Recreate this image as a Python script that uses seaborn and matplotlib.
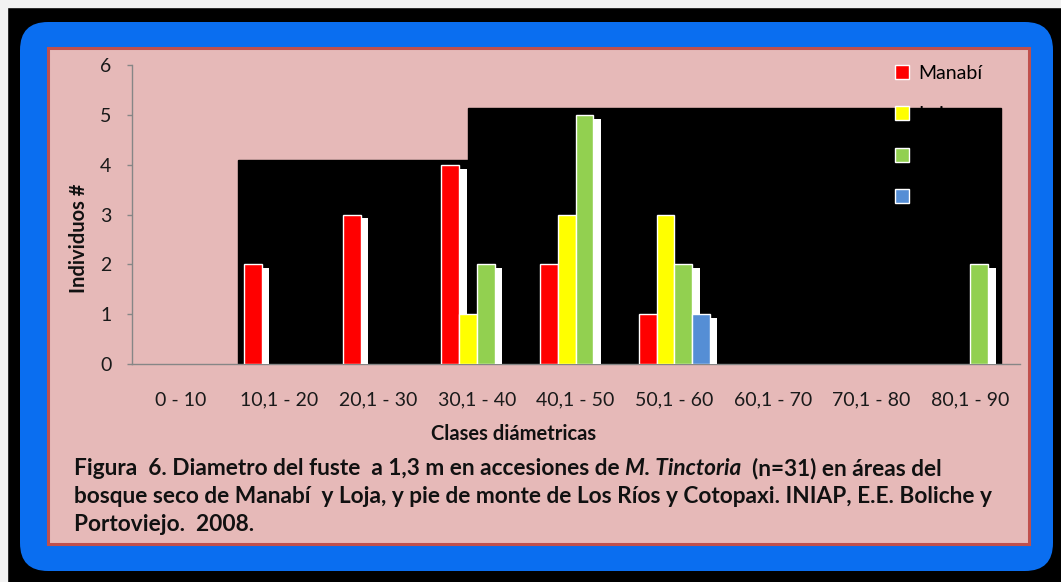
import matplotlib
matplotlib.use('Agg')
import matplotlib.pyplot as plt
import matplotlib.patheffects as pe
from matplotlib.patches import Rectangle, FancyBboxPatch
from matplotlib.lines import Line2D
from matplotlib.transforms import IdentityTransform
import seaborn as sns
import pandas as pd


categories = ["0 - 10", "10,1 - 20", "20,1 - 30", "30,1 - 40", "40,1 - 50",
              "50,1 - 60", "60,1 - 70", "70,1 - 80", "80,1 - 90"]
manabi   = [0, 2, 3, 4, 2, 1, 0, 0, 0]
loja     = [0, 0, 0, 1, 3, 3, 0, 0, 0]
los_rios = [0, 0, 0, 2, 5, 2, 0, 0, 2]
cotopaxi = [0, 0, 0, 0, 0, 1, 0, 0, 0]

series_names = ["Manabí", "Loja", "Los Ríos", "Cotopaxi"]
series_colors = ["#FF0000", "#FFFF00", "#92D050", "#558ED5"]

caption_lines = [
    [("Figura  6. Diametro del fuste  a 1,3 m en accesiones de", "normal"),
     (" M. Tinctoria", "italic"),
     ("  (n=31) en áreas del", "normal")],
    [("bosque seco de Manabí  y Loja, y pie de monte de Los Ríos y Cotopaxi. INIAP, E.E. Boliche y", "normal")],
    [("Portoviejo.  2008.", "normal")],
]

rows = []
for name, vals in zip(series_names, [manabi, loja, los_rios, cotopaxi]):
    for c, v in zip(categories, vals):
        rows.append({"clase": c, "n": v, "serie": name})
df = pd.DataFrame(rows)

sns.set_theme(style='white')
plt.rcParams['font.family'] = ['Lato', 'DejaVu Sans']

W, H = 1061, 582
fig = plt.figure(figsize=(W / 100, H / 100), dpi=100, facecolor='black')


def px_rect(x0, y0, x1, y1):
    # pixel box with top-left origin -> display coords
    return (x0, H - y1), x1 - x0, y1 - y0


# frame: white strip, blue rounded box, pink panel with red border
xy, w, h = px_rect(0, 0, W, 7)
fig.add_artist(Rectangle(xy, w, h, transform=IdentityTransform(), color='#f2f2f2', zorder=0))
xy, w, h = px_rect(0, 0, 7, H)
fig.add_artist(Rectangle(xy, w, h, transform=IdentityTransform(), color='#f2f2f2', zorder=0))
xy, w, h = px_rect(20, 22, 1053, 571)
fig.add_artist(FancyBboxPatch(xy, w, h, boxstyle='round,pad=0,rounding_size=28',
                              transform=IdentityTransform(), facecolor='#0A6EF0',
                              edgecolor='none', zorder=0))
xy, w, h = px_rect(48, 48, 1029, 544)
fig.add_artist(Rectangle(xy, w, h, transform=IdentityTransform(), facecolor='#E6B9B8',
                         edgecolor='#C0504D', linewidth=2.2, zorder=0))

ax = fig.add_axes([131.6 / W, 1 - 364 / H, 888 / W, 299 / H])
ax.patch.set_alpha(0)

sns.barplot(data=df, x='clase', y='n', hue='serie', order=categories,
            hue_order=series_names, palette=series_colors, saturation=1,
            width=0.72, gap=0, edgecolor='white', linewidth=1, legend=False,
            ax=ax, zorder=3)

# white drop shadow like the original (the yellow series shows none)
for name, cont in zip(series_names, ax.containers):
    for bar in cont:
        if bar.get_height() == 0:
            bar.set_visible(False)
            continue
        if name != "Loja":
            bar.set_path_effects([
                pe.SimplePatchShadow(offset=(5.5, -2.8), shadow_rgbFace='white', alpha=1),
                pe.Normal()])

# black blocks behind the bars (artefact in the source image)
ax.add_patch(Rectangle((0.578, 0), 2.909 - 0.578, 4.1, color='black', zorder=1))
ax.add_patch(Rectangle((2.909, 0), 8.31 - 2.909, 5.14, color='black', zorder=1))

ax.set_xlim(-0.5, 8.5)
ax.set_ylim(0, 6)
ax.set_yticks(range(0, 7))
sns.despine(ax=ax)
for side in ['left', 'bottom']:
    ax.spines[side].set_color('#868686')
    ax.spines[side].set_linewidth(1)
ax.tick_params(axis='y', left=True, length=3.6, width=1, color='#868686',
               pad=11, labelsize=14, labelcolor='#1a1a1a')
ax.tick_params(axis='x', bottom=False, length=0, pad=20, labelsize=14,
               labelcolor='#1a1a1a')

ax.set_xlabel('Clases diámetricas', fontsize=14.5, fontweight='bold', color='#111111')
ax.xaxis.set_label_coords(0.43, -0.2)
ax.set_ylabel('Individuos #', fontsize=14.5, fontweight='bold', color='#111111')
ax.yaxis.set_label_coords(-0.048, 0.42)

handles = [Line2D([], [], marker='s', ls='', markersize=9.5, markerfacecolor=c,
                  markeredgecolor='white', markeredgewidth=1) for c in series_colors]
leg = ax.legend(handles, series_names, loc='upper left',
                bbox_to_anchor=(894 / W, 1 - 65 / H), bbox_transform=fig.transFigure,
                frameon=False, fontsize=14, labelspacing=1.25, handlelength=0.8,
                handletextpad=0.45, borderpad=0, borderaxespad=0)
for t in leg.get_texts():
    t.set_color('black')
leg.set_zorder(5)

# caption with mixed bold / bold-italic runs, fitted to the source width
renderer = fig.canvas.get_renderer()
probe = fig.text(0, 0, caption_lines[1][0][0], fontsize=14, fontweight='bold')
probe_w = probe.get_window_extent(renderer=renderer).width
probe.remove()
cap_size = 14 * (997 - 74) / probe_w

for i, runs in enumerate(caption_lines):
    x = 74
    y_base = 475 + 28 * i
    for text, style in runs:
        t = fig.text(x / W, 1 - y_base / H, text, fontsize=cap_size, fontweight='bold',
                     fontstyle=style, va='baseline', ha='left', color='#111111')
        x += t.get_window_extent(renderer=renderer).width

fig.savefig('out.png', dpi=100, facecolor='black')
plt.close(fig)
